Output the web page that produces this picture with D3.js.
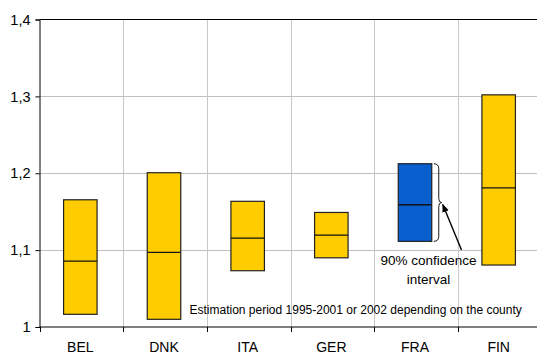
<!DOCTYPE html>
<html><head><meta charset="utf-8">
<script src="https://cdn.jsdelivr.net/npm/d3@7"></script>
<style>body{margin:0;background:#fff}svg{display:block;font-family:"Liberation Sans",Arial,sans-serif}</style>
</head><body><svg id="c" width="537" height="356"></svg>
<script>
const categories = ["BEL","DNK","ITA","GER","FRA","FIN"];
const lowValues = [1.0165,1.010,1.0732,1.090,1.1114,1.0806];
const highValues = [1.1655,1.2007,1.1635,1.149,1.2124,1.302];
const midValues = [1.0858,1.097,1.1157,1.1196,1.159,1.181];
const highlighted = ["FRA"];
const yTicks = [1,1.1,1.2,1.3,1.4];
const noteText = "Estimation period 1995-2001 or 2002 depending on the county";
const ciLabel = ["90% confidence","interval"];

const svg = d3.select("#c");
const L = 39.5, R = 541.5, T = 19.5, B = 327;
const x = d3.scaleBand().domain(categories).range([L,R]).paddingInner(0).paddingOuter(0);
const y = d3.scaleLinear().domain([1,1.4]).range([B,T]);
const fmt = d => d3.format(".1f")(d).replace(".",",").replace(/,0$/,"");

// horizontal gridlines
svg.append("g").selectAll("line").data(yTicks.slice(1,-1)).join("line")
  .attr("x1",L).attr("x2",537).attr("y1",d=>Math.round(y(d))+0.5).attr("y2",d=>Math.round(y(d))+0.5)
  .attr("stroke","#c0c0c0");
// vertical gridlines at band boundaries
svg.append("g").selectAll("line").data(categories.slice(1)).join("line")
  .attr("x1",d=>Math.round(x(d))+0.5).attr("x2",d=>Math.round(x(d))+0.5).attr("y1",T).attr("y2",B)
  .attr("stroke","#c8c8c8");
// top border
svg.append("line").attr("x1",L).attr("x2",537).attr("y1",T).attr("y2",T).attr("stroke","#000");

// y axis
const yAxis = d3.axisLeft(y).tickValues(yTicks).tickFormat(fmt).tickSize(4).tickPadding(5);
const gy = svg.append("g").attr("transform",`translate(${L},0)`).call(yAxis);
gy.select(".domain").attr("stroke","#000");
gy.selectAll("text").attr("font-size",14.5).attr("fill","#000").attr("font-family","Liberation Sans, Arial, sans-serif");

// x axis
const gx = svg.append("g").attr("transform",`translate(0,${B})`);
gx.append("line").attr("x1",L).attr("x2",537).attr("y1",0).attr("y2",0).attr("stroke","#000").attr("stroke-width",1.2);
gx.selectAll("line.t").data(categories).join("line").attr("class","t")
  .attr("x1",d=>Math.round(x(d))+0.5).attr("x2",d=>Math.round(x(d))+0.5).attr("y1",0).attr("y2",5).attr("stroke","#000");
gx.selectAll("text").data(categories).join("text")
  .attr("x",d=>x(d)+x.bandwidth()/2 - 1).attr("y",25).attr("text-anchor","middle")
  .attr("font-size",14).attr("fill","#000").text(d=>d);

// bars
const bw = 33.5;
const bars = svg.append("g").selectAll("g").data(categories).join("g");
bars.append("rect")
  .attr("x",d=>x(d)+x.bandwidth()/2 - bw/2 - 1)
  .attr("y",(d,i)=>y(highValues[i]))
  .attr("width",bw)
  .attr("height",(d,i)=>y(lowValues[i])-y(highValues[i]))
  .attr("fill",d=>highlighted.includes(d)?"#0A5FCF":"#FFCC00")
  .attr("stroke","#222").attr("stroke-width",1.2);
bars.append("line")
  .attr("x1",d=>x(d)+x.bandwidth()/2 - bw/2 - 1)
  .attr("x2",d=>x(d)+x.bandwidth()/2 + bw/2 - 1)
  .attr("y1",(d,i)=>y(midValues[i])).attr("y2",(d,i)=>y(midValues[i]))
  .attr("stroke","#111").attr("stroke-width",1.3);

// bracket for FRA
const fi = categories.indexOf("FRA");
const bx = x("FRA")+x.bandwidth()/2 + bw/2 - 1 + 2;
const yt = y(highValues[fi]), yb = y(lowValues[fi]), ym = (yt+yb)/2;
svg.append("path")
  .attr("d",`M${bx},${yt} Q${bx+5},${yt} ${bx+5},${yt+5} L${bx+5},${ym-4} Q${bx+5},${ym} ${bx+8},${ym} Q${bx+5},${ym} ${bx+5},${ym+4} L${bx+5},${yb-5} Q${bx+5},${yb} ${bx},${yb}`)
  .attr("fill","none").attr("stroke","#000").attr("stroke-width",0.9);
// arrow
svg.append("defs").append("marker").attr("id","ah").attr("viewBox","0 0 10 10").attr("refX",9).attr("refY",5)
  .attr("markerWidth",6).attr("markerHeight",6).attr("orient","auto")
  .append("path").attr("d","M0,1 L10,5 L0,9 z").attr("fill","#000");
svg.append("line").attr("x1",461.5).attr("y1",250).attr("x2",bx+9).attr("y2",ym+2)
  .attr("stroke","#000").attr("stroke-width",1.4).attr("marker-end","url(#ah)");
svg.append("g").selectAll("text").data(ciLabel).join("text")
  .attr("x",428.5).attr("y",(d,i)=>265+i*18.5).attr("text-anchor","middle")
  .attr("font-size",13.5).attr("fill","#000").text(d=>d);

// note
svg.append("text").attr("x",189.5).attr("y",314).attr("font-size",12).attr("fill","#000").text(noteText);
</script></body></html>
